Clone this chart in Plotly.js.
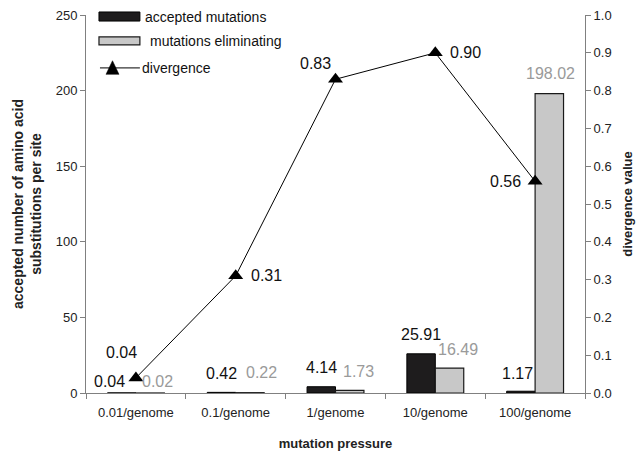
<!DOCTYPE html>
<html>
<head>
<meta charset="utf-8">
<script src="https://cdn.plot.ly/plotly-3.0.1.min.js"></script>
<style>html,body{margin:0;padding:0;background:#fff;}#chart{width:639px;height:453px;}</style>
</head>
<body>
<div id="chart"></div>
<script>
// ---- data ----
const categories = ["0.01/genome", "0.1/genome", "1/genome", "10/genome", "100/genome"];
const accepted = [0.04, 0.42, 4.14, 25.91, 1.17];
const eliminating = [0.02, 0.22, 1.73, 16.49, 198.02];
const divergence = [0.04, 0.31, 0.83, 0.90, 0.56];
const acceptedLabels = ["0.04", "0.42", "4.14", "25.91", "1.17"];
const eliminatingLabels = ["0.02", "0.22", "1.73", "16.49", "198.02"];
const divergenceLabels = ["0.04", "0.31", "0.83", "0.90", "0.56"];

// ---- label placement (pixel offsets, style only) ----
const accOff = [[-26, 11], [-14, 19], [-14.5, 19], [-14, 19], [-18, 18]];
const elimOff = [[22, 11], [26, 20], [23, 19], [23, 19], [15, 20]];
const divOff = [[-14, 25], [31, 0], [-20, 16], [30, 0], [-30, 0]];

const FONT = "Liberation Sans, Arial, sans-serif";
const GRAY_TXT = "#9a9a9a";

const traces = [
  {type: "bar", name: "accepted mutations", x: categories, y: accepted,
   marker: {color: "#1e1c1d", line: {color: "#000", width: 1}}, showlegend: false},
  {type: "bar", name: "mutations eliminating", x: categories, y: eliminating,
   marker: {color: "#c8c8c8", line: {color: "#1a1a1a", width: 1.2}}, showlegend: false},
  {type: "scatter", mode: "lines+markers", name: "divergence", x: categories, y: divergence,
   yaxis: "y2", line: {color: "#000", width: 1},
   marker: {symbol: "triangle-up", size: 13, color: "#000"}, showlegend: false}
];

const annotations = [];
categories.forEach((c, i) => {
  annotations.push({x: c, y: accepted[i], xref: "x", yref: "y", text: acceptedLabels[i],
    showarrow: false, xshift: accOff[i][0], yshift: accOff[i][1],
    font: {family: FONT, size: 16, color: "#111"}});
  annotations.push({x: c, y: eliminating[i], xref: "x", yref: "y", text: eliminatingLabels[i],
    showarrow: false, xshift: elimOff[i][0], yshift: elimOff[i][1],
    font: {family: FONT, size: 16, color: GRAY_TXT}});
  annotations.push({x: c, y: divergence[i], xref: "x", yref: "y2", text: divergenceLabels[i],
    showarrow: false, xshift: divOff[i][0], yshift: divOff[i][1],
    font: {family: FONT, size: 16, color: "#111"}});
});

// manual legend text
const legendNames = ["accepted mutations", "mutations eliminating", "divergence"];
annotations.push({xref: "paper", yref: "paper", x: 0.114, y: 0.996, text: legendNames[0],
  showarrow: false, xanchor: "left", yanchor: "middle", font: {family: FONT, size: 14, color: "#111"}});
annotations.push({xref: "paper", yref: "paper", x: 0.124, y: 0.931, text: legendNames[1],
  showarrow: false, xanchor: "left", yanchor: "middle", font: {family: FONT, size: 14, color: "#111"}});
annotations.push({xref: "paper", yref: "paper", x: 0.108, y: 0.860, text: legendNames[2],
  showarrow: false, xanchor: "left", yanchor: "middle", font: {family: FONT, size: 14, color: "#111"}});

const shapes = [
  {type: "rect", xref: "paper", yref: "paper", x0: 0.026, x1: 0.108, y0: 0.984, y1: 1.008,
   fillcolor: "#1e1c1d", line: {color: "#000", width: 1}},
  {type: "rect", xref: "paper", yref: "paper", x0: 0.026, x1: 0.108, y0: 0.921, y1: 0.942,
   fillcolor: "#c8c8c8", line: {color: "#1a1a1a", width: 1.2}},
  {type: "line", xref: "paper", yref: "paper", x0: 0.028, x1: 0.108, y0: 0.860, y1: 0.860,
   line: {color: "#000", width: 1}},
  {type: "path", xref: "paper", yref: "paper",
   path: "M 0.0531 0.879 L 0.0401 0.843 L 0.0661 0.843 Z", fillcolor: "#000", line: {color: "#000", width: 0.5}}
];

const axisCommon = {
  showgrid: false, zeroline: false, showline: true, linecolor: "#808080", linewidth: 1,
  ticks: "outside", ticklen: 5, tickcolor: "#808080", tickwidth: 1,
  tickfont: {family: FONT, size: 13, color: "#222"}
};

const layout = {
  width: 639, height: 453,
  margin: {l: 86, r: 54, t: 15, b: 60},
  paper_bgcolor: "#fff", plot_bgcolor: "#fff",
  font: {family: FONT},
  barmode: "group", bargap: 0.43, bargroupgap: 0,
  xaxis: Object.assign({}, axisCommon, {
    type: "category", tickson: "boundaries", ticklabelstandoff: 7,
    title: {text: "mutation pressure", standoff: 20,
      font: {family: FONT, size: 13, color: "#222", weight: "bold"}}
  }),
  yaxis: Object.assign({}, axisCommon, {
    range: [0, 250], dtick: 50, tick0: 0,
    title: {text: "accepted number of amino acid<br>substitutions per site", standoff: 10,
      font: {family: FONT, size: 14, color: "#222", weight: "bold"}}
  }),
  yaxis2: Object.assign({}, axisCommon, {
    overlaying: "y", side: "right", range: [0, 1], dtick: 0.1, tick0: 0, tickformat: ".1f",
    title: {text: "divergence value", standoff: 12,
      font: {family: FONT, size: 13, color: "#222", weight: "bold"}}
  }),
  annotations: annotations,
  shapes: shapes,
  showlegend: false
};

Plotly.newPlot("chart", traces, layout, {displayModeBar: false, staticPlot: true});
</script>
</body>
</html>
